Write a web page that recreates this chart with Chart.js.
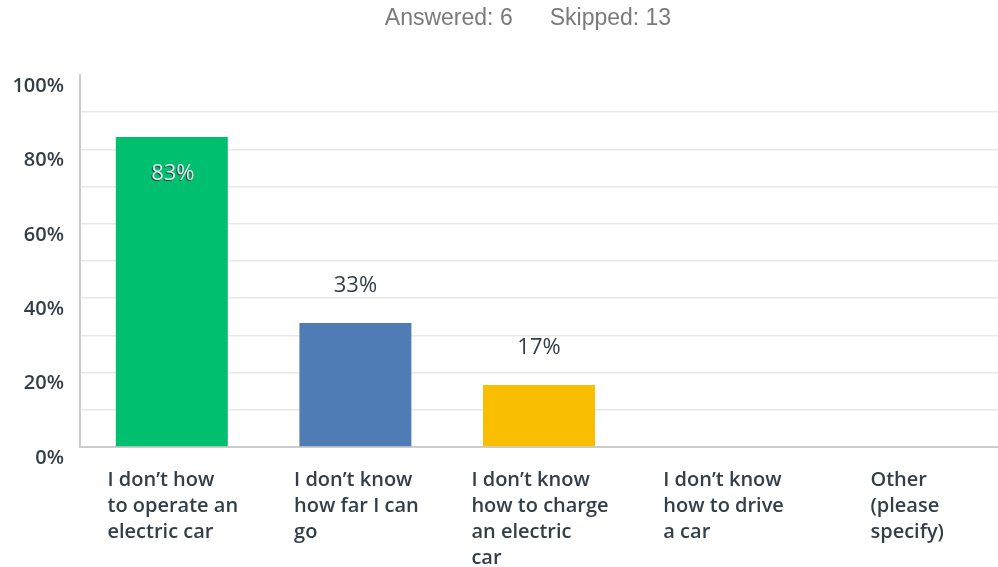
<!DOCTYPE html>
<html>
<head>
<meta charset="utf-8">
<title>Survey chart</title>
<script src="https://cdn.jsdelivr.net/npm/chart.js@4"></script>
<style>
  html, body { margin: 0; padding: 0; background: #fff; }
  #wrap { width: 998px; height: 567px; }
</style>
</head>
<body>
<div id="wrap"><canvas id="surveyChart" width="998" height="567"></canvas></div>
<script>
// Data
const categories = [
  ["I don’t how", "to operate an", "electric car"],
  ["I don’t know", "how far I can", "go"],
  ["I don’t know", "how to charge", "an electric", "car"],
  ["I don’t know", "how to drive", "a car"],
  ["Other", "(please", "specify)"]
];
const percentValues = [83.33, 33.33, 16.67, 0, 0];
const percentLabels = ["83%", "33%", "17%", "0%", "0%"];
const barColors = ["#00bf6f", "#507cb6", "#f9be00", "#6bc8cd", "#8b9c9e"];
const titleText = ["Answered: 6", "Skipped: 13"];

const TEXT_DARK = "#333e48";
const LABEL_FONT = "600 20px 'Open Sans', sans-serif";

// Header, value labels and left-aligned category labels
const surveyPlugin = {
  id: "surveyPlugin",
  afterDraw(chart) {
    const ctx = chart.ctx;
    const area = chart.chartArea;
    const xScale = chart.scales.x;

    ctx.save();

    // header
    ctx.font = "23px 'Liberation Sans', Arial, sans-serif";
    ctx.fillStyle = "#7a7a7a";
    ctx.textBaseline = "middle";
    ctx.textAlign = "left";
    const gap = 37;
    const w1 = ctx.measureText(titleText[0]).width;
    const w2 = ctx.measureText(titleText[1]).width;
    const startX = (area.left + area.right) / 2 - 11 - (w1 + gap + w2) / 2;
    ctx.fillText(titleText[0], startX, 19);
    ctx.fillText(titleText[1], startX + w1 + gap, 19);

    // value labels
    const meta = chart.getDatasetMeta(0);
    ctx.font = "500 22px 'Open Sans', sans-serif";
    ctx.textAlign = "center";
    meta.data.forEach((bar, i) => {
      if (percentValues[i] <= 0) return;
      if (percentValues[i] > 50) {
        const y = bar.y + 38;
        ctx.fillStyle = TEXT_DARK;
        ctx.fillText(percentLabels[i], bar.x, y);
        ctx.fillStyle = "rgba(255,255,255,0.85)";
        ctx.fillText(percentLabels[i], bar.x + 1, y - 1);
      } else {
        ctx.fillStyle = TEXT_DARK;
        ctx.fillText(percentLabels[i], bar.x, bar.y - 37);
      }
    });

    // category labels, block centred, lines left-aligned
    ctx.font = LABEL_FONT;
    ctx.fillStyle = TEXT_DARK;
    ctx.textAlign = "left";
    categories.forEach((lines, i) => {
      const cx = xScale.getPixelForValue(i);
      const maxW = Math.max(...lines.map(l => ctx.measureText(l).width));
      const left = cx - maxW / 2 + 1;
      lines.forEach((line, j) => {
        ctx.fillText(line, left, area.bottom + 33 + j * 26);
      });
    });

    ctx.restore();
  }
};

const chart = new Chart(document.getElementById("surveyChart"), {
  type: "bar",
  data: {
    labels: categories,
    datasets: [
      {
        data: percentValues,
        backgroundColor: barColors,
        borderWidth: 0,
        barPercentage: 0.61,
        categoryPercentage: 1.0
      }
    ]
  },
  options: {
    responsive: false,
    animation: false,
    layout: { padding: { top: 75, right: 0, bottom: 0, left: 0 } },
    plugins: {
      legend: { display: false },
      title: { display: false },
      tooltip: { enabled: false }
    },
    scales: {
      x: {
        grid: { display: false },
        border: { color: "#cccccc", width: 2 },
        ticks: { display: false },
        afterFit(scale) { scale.height = 120; }
      },
      y: {
        min: 0,
        max: 100,
        grid: {
          drawTicks: false,
          color: ctx => (ctx.tick && ctx.tick.value === 100 ? "rgba(0,0,0,0)" : "#e8e8e8"),
          lineWidth: 1.5
        },
        border: { color: "#cccccc", width: 2 },
        ticks: {
          stepSize: 10,
          padding: 16,
          labelOffset: 11,
          color: TEXT_DARK,
          font: { family: "'Open Sans', sans-serif", size: 20, weight: "600" },
          callback: v => (v % 20 === 0 ? v + "%" : "")
        },
        afterFit(scale) { scale.width = 80; }
      }
    }
  },
  plugins: [surveyPlugin]
});
</script>
</body>
</html>
